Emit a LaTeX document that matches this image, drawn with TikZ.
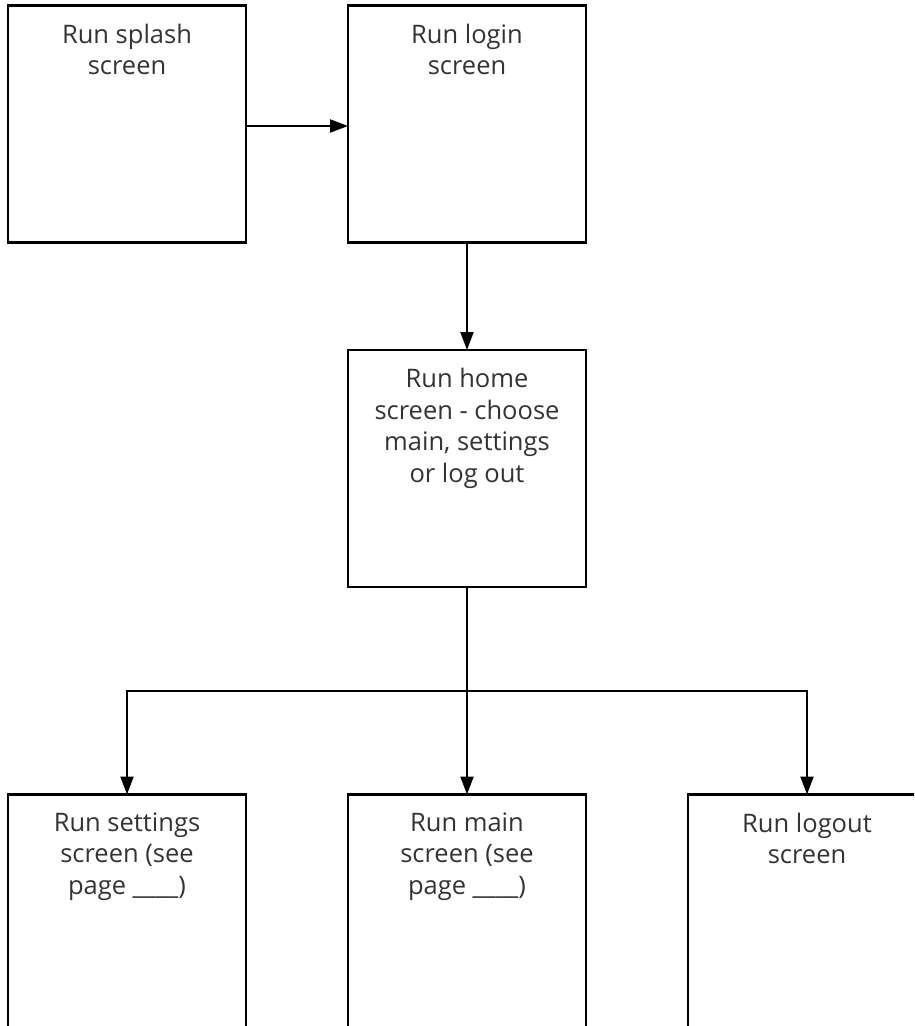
\documentclass[tikz,border=0pt]{standalone}
\usepackage{fontspec}
\setmainfont{Open Sans}
\usetikzlibrary{arrows.meta}
\begin{document}
\begin{tikzpicture}[x=1pt,y=1pt,
  box/.style={draw=black,line width=2.4pt,minimum width=238pt,minimum height=237pt,inner sep=0pt,outer sep=0pt},
  txt/.style={anchor=north,align=center,inner sep=0pt,text=black!80,font=\fontsize{25.5}{31.5}\selectfont},
  conn/.style={line width=2.2pt,-{Triangle[length=18pt,width=13pt]}},
  line/.style={line width=2.2pt}]
\useasboundingbox (0,0) rectangle (914,-1026);
\clip (0,0) rectangle (914,-1026);
\node[box] (splash) at (127,-124) {};
\node[box] (login) at (467,-124) {};
\node[box] (home) at (467,-468.5) {};
\node[box] (settings) at (127,-913) {};
\node[box] (main) at (467,-913) {};
\node[box] (logout) at (807,-913) {};
\node[txt] (tsplash) at ([yshift=-18pt]splash.north) {Run splash\\screen};
\node[txt] (tlogin) at ([yshift=-18pt]login.north) {Run login\\screen};
\node[txt] (thome) at ([yshift=-18pt]home.north) {Run home\\screen - choose\\main, settings\\or log out};
\node[txt] (tsettings) at ([yshift=-18pt]settings.north) {Run settings\\screen (see\\page \_\_\_\_)};
\node[txt] (tmain) at ([yshift=-18pt]main.north) {Run main\\screen (see\\page \_\_\_\_)};
\node[txt] (tlogout) at ([yshift=-18pt]logout.north) {Run logout\\screen};
\coordinate (bar) at (467,-691);
\draw[conn] (splash.east |- 0,-126) -- (login.west |- 0,-126);
\draw[conn] (login.south) -- (home.north);
\draw[conn] (home.south) -- (main.north);
\draw[conn] (bar) -| (settings.north);
\draw[conn] (bar) -| (logout.north);
\end{tikzpicture}
\end{document}
